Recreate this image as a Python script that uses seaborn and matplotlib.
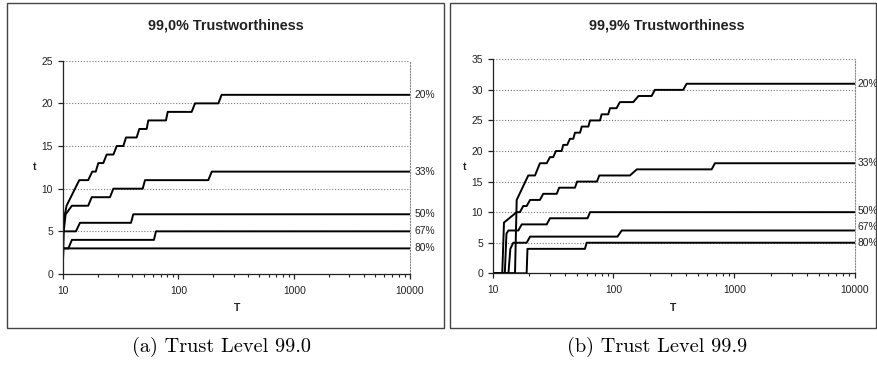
import matplotlib
matplotlib.use("Agg")
import matplotlib.pyplot as plt
import matplotlib.ticker as mticker
import matplotlib.transforms as mtransforms
from matplotlib.patches import Rectangle
import pandas as pd
import seaborn as sns

# Series labels (fraction of the population)
LABELS = ["20%", "33%", "50%", "67%", "80%"]

# 99.0% trustworthiness: step curves (T, t vertices)
L20_T = [10, 10.1, 10.8, 13.9, 16.6, 18.0, 19.3, 20.3, 22.4, 24.0, 27.4, 29.3, 33.4, 35.2, 43.5,
         45.9, 53.1, 54.9, 78, 80.7, 130, 139, 221, 236, 10000]
L20_t = [0, 6, 8, 11, 11, 12, 12, 13, 13, 14, 14, 15, 15, 16, 16,
         17, 17, 18, 18, 19, 19, 20, 20, 21, 21]
L33_T = [10, 10.2, 10.6, 12.0, 16.6, 17.8, 25.6, 27.4, 49.1, 51.4, 181, 194, 10000]
L33_t = [0, 5, 7, 8, 8, 9, 9, 10, 10, 11, 11, 12, 12]
L50_T = [10, 10.1, 13.0, 14.1, 38.9, 40.7, 10000]
L50_t = [0, 5, 5, 6, 6, 7, 7]
L67_T = [10, 10.1, 11.2, 12.0, 61.4, 63.9, 10000]
L67_t = [0, 3, 3, 4, 4, 5, 5]
L80_T = [10, 10.1, 10000]
L80_t = [0, 3, 3]

# 99.9% trustworthiness
R20_T = [10, 15.3, 15.8, 19.7, 22.4, 24.6, 28.0, 29.8, 31.7, 33.4, 37.2, 38.4, 41.4, 43.6, 46.5,
         48.0, 52.9, 54.6, 62, 63.9, 77.4, 79.8, 90.5, 93.6, 106, 113, 146, 161, 207, 220,
         378, 403, 10000]
R20_t = [0, 0, 12, 16, 16, 18, 18, 19, 19, 20, 20, 21, 21, 22, 22,
         23, 23, 24, 24, 25, 25, 26, 26, 27, 27, 28, 28, 29, 29, 30,
         30, 31, 31]
R33_T = [10, 12.0, 12.4, 15.8, 16.8, 17.9, 19.1, 20.4, 24.6, 26.2, 33.9, 35.5, 48, 50, 73,
         76.3, 137, 156, 650, 692, 10000]
R33_t = [0, 0, 8.3, 10, 10, 11, 11, 12, 12, 13, 13, 14, 14, 15, 15,
         16, 16, 17, 17, 18, 18]
R50_T = [10, 12.6, 13.0, 13.5, 16.3, 17.4, 28.0, 29.8, 61, 64, 10000]
R50_t = [0, 0, 6.5, 7, 7, 8, 8, 9, 9, 10, 10]
R67_T = [10, 13.5, 14.0, 14.8, 19.1, 20.4, 108, 117, 10000]
R67_t = [0, 0, 4, 5, 5, 6, 6, 7, 7]
R80_T = [10, 19.1, 19.4, 58, 60, 10000]
R80_t = [0, 0, 4, 4, 5, 5]


def build_frame(series):
    rows = []
    for label, (xs, ys) in zip(LABELS, series):
        for x, y in zip(xs, ys):
            rows.append({"T": x, "t": y, "share": label})
    return pd.DataFrame(rows)


left_df = build_frame([(L20_T, L20_t), (L33_T, L33_t), (L50_T, L50_t),
                       (L67_T, L67_t), (L80_T, L80_t)])
right_df = build_frame([(R20_T, R20_t), (R33_T, R33_t), (R50_T, R50_t),
                        (R67_T, R67_t), (R80_T, R80_t)])

sns.set_theme(style="white")
plt.rcParams["font.family"] = ["Liberation Sans", "DejaVu Sans"]

W, H = 877, 366
fig = plt.figure(figsize=(W / 100, H / 100), dpi=100)


def px_box(x0, y0, x1, y1):
    # pixel box (top-left origin) -> figure fraction [left, bottom, width, height]
    return [x0 / W, 1 - y1 / H, (x1 - x0) / W, (y1 - y0) / H]


panels = [
    dict(df=left_df, rect=px_box(62.7, 60.7, 410, 274), ymax=25, title="99,0% Trustworthiness",
         title_x=226, ylab_x=35, xlab_x=237, caption="(a) Trust Level 99.0", cap_x=222,
         box=(7, 3, 444, 328), lab_dx=0.014, nudges={}),
    dict(df=right_df, rect=px_box(492.7, 59.3, 855, 273.3), ymax=35, title="99,9% Trustworthiness",
         title_x=667, ylab_x=465, xlab_x=673, caption="(b) Trust Level 99.9", cap_x=657,
         box=(450, 3, 876, 328), lab_dx=0.006, nudges={"67%": 0.6, "50%": 0.2}),
]

for p in panels:
    ax = fig.add_axes(p["rect"])
    ax.set_xscale("log")
    sns.lineplot(data=p["df"], x="T", y="t", units="share", estimator=None, sort=False,
                 color="black", linewidth=1.4, ax=ax, legend=False)
    ax.set_xlim(10, 10000)
    ax.set_ylim(0, p["ymax"])
    ax.set_yticks(range(0, p["ymax"] + 1, 5))
    ax.xaxis.set_major_locator(mticker.FixedLocator([10, 100, 1000, 10000]))
    ax.xaxis.set_major_formatter(mticker.FormatStrFormatter("%d"))
    ax.xaxis.set_minor_locator(mticker.LogLocator(base=10, subs=range(2, 10), numticks=20))
    ax.xaxis.set_minor_formatter(mticker.NullFormatter())
    ax.set_xlabel("")
    ax.set_ylabel("")

    ax.yaxis.grid(True, linestyle=(0, (1, 1.6)), color="#777777", linewidth=0.8)
    ax.xaxis.grid(False)
    ax.spines["top"].set_visible(False)
    ax.spines["right"].set_linestyle((0, (1, 1.6)))
    ax.spines["right"].set_color("#888888")
    ax.spines["right"].set_linewidth(0.8)
    for s in ("left", "bottom"):
        ax.spines[s].set_color("#222222")
        ax.spines[s].set_linewidth(0.9)

    ax.tick_params(axis="both", which="major", direction="out", length=3.5, width=0.9,
                   labelsize=7.4, colors="#222222", left=True, bottom=True)
    ax.tick_params(axis="x", which="major", pad=5)
    ax.tick_params(axis="y", which="major", pad=3.5)
    ax.tick_params(axis="x", which="minor", direction="out", length=2.5, width=0.8,
                   bottom=True, color="#222222")

    # series labels at the right end of each line
    trans = mtransforms.blended_transform_factory(ax.transAxes, ax.transData)
    for label in LABELS:
        last = p["df"][p["df"]["share"] == label]["t"].iloc[-1]
        ax.text(1 + p["lab_dx"], last + p["nudges"].get(label, 0), label, transform=trans,
                ha="left", va="center", fontsize=7.4, color="#222222")

    fig.text(p["title_x"] / W, 1 - 25 / H, p["title"], ha="center", va="center",
             fontsize=10.4, fontweight="bold", color="#222222")
    fig.text(p["ylab_x"] / W, 1 - 167 / H, "t", ha="center", va="center",
             fontsize=7.5, fontweight="bold", color="#222222")
    fig.text(p["xlab_x"] / W, 1 - 308 / H, "T", ha="center", va="center",
             fontsize=7.5, fontweight="bold", color="#222222")
    fig.text(p["cap_x"] / W, 1 - 347 / H, p["caption"], ha="center", va="center",
             fontsize=14.6, family=["cmr10", "DejaVu Serif"], color="black")

    x0, y0, x1, y1 = p["box"]
    fig.patches.append(Rectangle((x0 / W, 1 - y1 / H), (x1 - x0) / W, (y1 - y0) / H,
                                 fill=False, edgecolor="#444444", linewidth=1.0,
                                 transform=fig.transFigure, figure=fig))

fig.savefig("out.png", dpi=100)
